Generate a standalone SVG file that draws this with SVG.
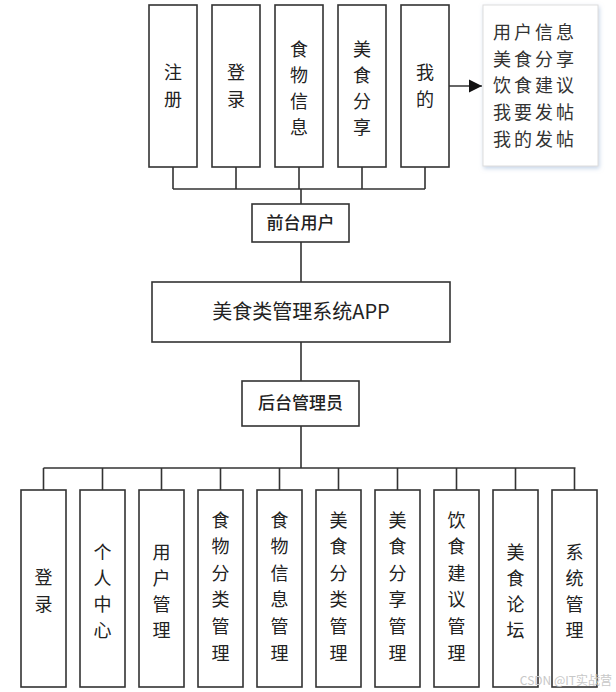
<svg xmlns="http://www.w3.org/2000/svg" width="616" height="692" viewBox="0 0 616 692">
<style>
.box{fill:#ffffff;stroke:#333333;stroke-width:1.6}
.ln{fill:none;stroke:#333333;stroke-width:1.6}
.t{font-family:"Noto Sans CJK SC","Liberation Sans",sans-serif;fill:#222222;text-anchor:middle}
.v{font-size:18px}
.h{font-size:17px;font-weight:500}
.info{font-family:"Noto Sans CJK SC","Liberation Sans",sans-serif;font-size:18px;fill:#333333;letter-spacing:3px}
</style>
<defs>
<marker id="arr" viewBox="0 0 10 10" refX="10" refY="5" markerWidth="13" markerHeight="14" markerUnits="userSpaceOnUse" orient="auto">
<path d="M0,0 L10,5 L0,10 Z" fill="#111111"/>
</marker>
<filter id="sh" x="-20%" y="-20%" width="140%" height="140%">
<feDropShadow dx="1" dy="2" stdDeviation="2" flood-color="#9fb8d8" flood-opacity="0.6"/>
</filter>
</defs>
<g id="connectors">
<path class="ln" d="M173,167V189M236,167V189M299,167V189M362,167V189M425,167V189M173,189H425M301,189V204"/>
<path class="ln" d="M301,242V282M301,342V381M301,426V468"/>
<path class="ln" d="M43.5,468H575.5M43.5,468V490M102.5,468V490M161.5,468V490M220.5,468V490M279.5,468V490M338.5,468V490M397.5,468V490M456.5,468V490M515.5,468V490M574.5,468V490"/>
<line class="ln" x1="448" y1="86" x2="482" y2="86" marker-end="url(#arr)"/>
</g>
<g id="n-zhuce"><rect class="box" x="149" y="5" width="48" height="162"/><text class="t v"><tspan x="173" y="79">注</tspan><tspan x="173" y="106">册</tspan></text></g>
<g id="n-denglu"><rect class="box" x="212" y="5" width="48" height="162"/><text class="t v"><tspan x="236" y="79">登</tspan><tspan x="236" y="106">录</tspan></text></g>
<g id="n-shiwuxinxi"><rect class="box" x="275" y="5" width="48" height="162"/><text class="t v"><tspan x="299" y="56">食</tspan><tspan x="299" y="82">物</tspan><tspan x="299" y="108">信</tspan><tspan x="299" y="134">息</tspan></text></g>
<g id="n-meishifenxiang"><rect class="box" x="338" y="5" width="48" height="162"/><text class="t v"><tspan x="362" y="56">美</tspan><tspan x="362" y="82">食</tspan><tspan x="362" y="108">分</tspan><tspan x="362" y="134">享</tspan></text></g>
<g id="n-wode"><rect class="box" x="401" y="5" width="48" height="162"/><text class="t v"><tspan x="425" y="79">我</tspan><tspan x="425" y="106">的</tspan></text></g>
<g id="n-info"><rect x="483" y="5" width="115" height="161" fill="#ffffff" stroke="#dddddd" stroke-width="1" filter="url(#sh)"/>
<text class="info"><tspan x="493" y="39">用户信息</tspan><tspan x="493" y="66">美食分享</tspan><tspan x="493" y="92">饮食建议</tspan><tspan x="493" y="119">我要发帖</tspan><tspan x="493" y="146">我的发帖</tspan></text></g>
<g id="n-qiantai"><rect class="box" x="252" y="204" width="97" height="38"/><text class="t h" x="300.5" y="229">前台用户</text></g>
<g id="n-app"><rect class="box" x="152" y="282" width="298" height="60"/><text class="t" style="font-size:20px" x="301" y="319">美食类管理系统APP</text></g>
<g id="n-houtai"><rect class="box" x="242" y="381" width="117" height="45"/><text class="t h" x="300.5" y="409">后台管理员</text></g>
<g id="n-b-denglu"><rect class="box" x="21" y="490" width="45" height="197"/><text class="t v"><tspan x="43.5" y="584">登</tspan><tspan x="43.5" y="611">录</tspan></text></g>
<g id="n-b-geren"><rect class="box" x="80" y="490" width="45" height="197"/><text class="t v"><tspan x="102.5" y="559">个</tspan><tspan x="102.5" y="585">人</tspan><tspan x="102.5" y="611">中</tspan><tspan x="102.5" y="637">心</tspan></text></g>
<g id="n-b-yonghu"><rect class="box" x="139" y="490" width="45" height="197"/><text class="t v"><tspan x="161.5" y="559">用</tspan><tspan x="161.5" y="585">户</tspan><tspan x="161.5" y="611">管</tspan><tspan x="161.5" y="637">理</tspan></text></g>
<g id="n-b-swfl"><rect class="box" x="198" y="490" width="45" height="197"/><text class="t v"><tspan x="220.5" y="527">食</tspan><tspan x="220.5" y="553">物</tspan><tspan x="220.5" y="580">分</tspan><tspan x="220.5" y="606">类</tspan><tspan x="220.5" y="633">管</tspan><tspan x="220.5" y="660">理</tspan></text></g>
<g id="n-b-swxx"><rect class="box" x="257" y="490" width="45" height="197"/><text class="t v"><tspan x="279.5" y="527">食</tspan><tspan x="279.5" y="553">物</tspan><tspan x="279.5" y="580">信</tspan><tspan x="279.5" y="606">息</tspan><tspan x="279.5" y="633">管</tspan><tspan x="279.5" y="660">理</tspan></text></g>
<g id="n-b-msfl"><rect class="box" x="316" y="490" width="45" height="197"/><text class="t v"><tspan x="338.5" y="527">美</tspan><tspan x="338.5" y="553">食</tspan><tspan x="338.5" y="580">分</tspan><tspan x="338.5" y="606">类</tspan><tspan x="338.5" y="633">管</tspan><tspan x="338.5" y="660">理</tspan></text></g>
<g id="n-b-msfx"><rect class="box" x="375" y="490" width="45" height="197"/><text class="t v"><tspan x="397.5" y="527">美</tspan><tspan x="397.5" y="553">食</tspan><tspan x="397.5" y="580">分</tspan><tspan x="397.5" y="606">享</tspan><tspan x="397.5" y="633">管</tspan><tspan x="397.5" y="660">理</tspan></text></g>
<g id="n-b-ysjy"><rect class="box" x="434" y="490" width="45" height="197"/><text class="t v"><tspan x="456.5" y="527">饮</tspan><tspan x="456.5" y="553">食</tspan><tspan x="456.5" y="580">建</tspan><tspan x="456.5" y="606">议</tspan><tspan x="456.5" y="633">管</tspan><tspan x="456.5" y="660">理</tspan></text></g>
<g id="n-b-msl"><rect class="box" x="493" y="490" width="45" height="197"/><text class="t v"><tspan x="515.5" y="559">美</tspan><tspan x="515.5" y="585">食</tspan><tspan x="515.5" y="611">论</tspan><tspan x="515.5" y="637">坛</tspan></text></g>
<g id="n-b-xtgl"><rect class="box" x="552" y="490" width="45" height="197"/><text class="t v"><tspan x="574.5" y="559">系</tspan><tspan x="574.5" y="585">统</tspan><tspan x="574.5" y="611">管</tspan><tspan x="574.5" y="637">理</tspan></text></g>
<text x="612" y="685" font-family="Noto Sans CJK SC,Liberation Sans,sans-serif" font-size="12" fill="#c8c8c8" text-anchor="end">CSDN @IT实战营</text>
</svg>
